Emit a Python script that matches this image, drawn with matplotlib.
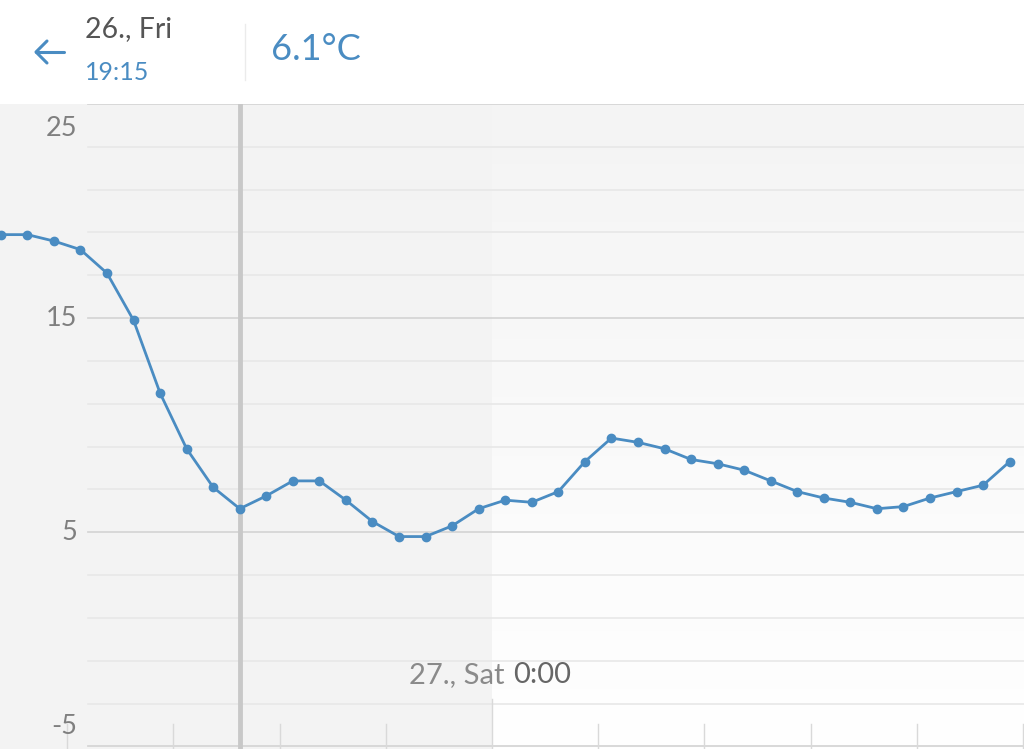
#!/usr/bin/env python3
import numpy as np
import matplotlib
matplotlib.use("Agg")
import matplotlib.pyplot as plt
import matplotlib.transforms as mtransforms
from matplotlib.colors import LinearSegmentedColormap

plt.rcParams["font.family"] = ["Lato", "DejaVu Sans"]

# ------------------------
# Data (half-hourly temperature, 26. Fri -> 27. Sat)
# ------------------------
times = [
    "14:45", "15:15", "15:45", "16:15", "16:45", "17:15", "17:45", "18:15",
    "18:45", "19:15", "19:45", "20:15", "20:45", "21:15", "21:45", "22:15",
    "22:45", "23:15", "23:45", "0:15", "0:45", "1:15", "1:45", "2:15",
    "2:45", "3:15", "3:45", "4:15", "4:45", "5:15", "5:45", "6:15",
    "6:45", "7:15", "7:45", "8:15", "8:45", "9:15", "9:45",
]
temps = [
    18.9, 18.9, 18.6, 18.2, 17.1, 14.9, 11.5, 8.9,
    7.1, 6.1, 6.7, 7.4, 7.4, 6.5, 5.5, 4.8,
    4.8, 5.3, 6.1, 6.5, 6.4, 6.9, 8.3, 9.4,
    9.2, 8.9, 8.4, 8.2, 7.9, 7.4, 6.9, 6.6,
    6.4, 6.1, 6.2, 6.6, 6.9, 7.2, 8.3,
]
y_labels = [25, 15, 5, -5]
selected_time = "19:15"
selected_text = "6.1°C"
day_label = "26., Fri"
next_day_label = "27., Sat"
midnight_label = "0:00"

BLUE = "#4a8cc2"


def to_hours(t):
    # hours relative to midnight of 27.; afternoon/evening values belong to the 26.
    h, m = t.split(":")
    h = int(h) + int(m) / 60.0
    return h - 24 if h >= 12 else h


x = np.array([to_hours(t) for t in times])
y = np.array(temps)

XMIN, XMAX = -9.265, 10.02
YMIN, YMAX = -5.12, 25.0

W, H = 1024, 749
HEADER = 104

fig = plt.figure(figsize=(W / 100, H / 100), dpi=100)
fig.patch.set_facecolor("white")

# ------------------------
# Main chart
# ------------------------
ax = fig.add_axes([0, 0, 1, (H - HEADER) / H])
ax.set_xlim(XMIN, XMAX)
ax.set_ylim(YMIN, YMAX)
ax.axis("off")

# backgrounds: past = flat grey, future = fading gradient
ax.axvspan(XMIN, 0, color="#f3f3f3", zorder=0, lw=0)
grad = np.linspace(0, 1, 256).reshape(-1, 1)
cmap = LinearSegmentedColormap.from_list("bg", ["#f4f4f4", "#ffffff"])
ax.imshow(grad, extent=(0, XMAX, YMIN, YMAX), aspect="auto", cmap=cmap,
          origin="upper", zorder=0)

# grid lines
gx0 = 88 / W
for v in range(-5, 26, 2):
    major = (v + 5) % 10 == 0
    ax.axhline(v, xmin=gx0, xmax=1, color="#d6d6d6" if major else "#e6e6e6",
               lw=1.3 if major else 1.1, zorder=1)

# bottom ticks every 2 hours
trans = mtransforms.blended_transform_factory(ax.transData, ax.transAxes)
for h in range(-8, 11, 2):
    top = 50 / (H - HEADER) if h == 0 else 25 / (H - HEADER)
    ax.plot([h, h], [0, top], transform=trans, color="#d9d9d9", lw=1.0,
            zorder=1, clip_on=False)

# cursor at selected time
ax.axvline(to_hours(selected_time), color="#c8c8c8", lw=3.5, zorder=2)

# temperature line
ax.plot(x, y, color=BLUE, lw=2.0, marker="o", ms=6, zorder=3)

# y labels
ylab_trans = mtransforms.blended_transform_factory(ax.transAxes, ax.transData)
offsets = {25: -24, 15: 0, 5: 0, -5: 20}
for v in y_labels:
    ax.annotate(str(v), xy=(77 / W, v), xycoords=ylab_trans,
                xytext=(0, offsets[v]), textcoords="offset pixels",
                ha="right", va="center", fontsize=19.5, color="#7f7f7f")

# midnight label
ax.annotate(next_day_label, xy=(0, -1.67), xytext=(13, 0),
            textcoords="offset pixels", ha="right", va="center",
            fontsize=21, color="#8a8a8a")
ax.annotate(midnight_label, xy=(0, -1.67), xytext=(21, 0),
            textcoords="offset pixels", ha="left", va="center",
            fontsize=21, color="#666666")

# ------------------------
# Header
# ------------------------
hx = fig.add_axes([0, (H - HEADER) / H, 1, HEADER / H])
hx.set_xlim(0, W)
hx.set_ylim(HEADER, 0)
hx.axis("off")

# back arrow
hx.plot([36, 64], [52, 52], color=BLUE, lw=2.2, solid_capstyle="round")
hx.plot([47, 36, 47], [41, 52, 63], color=BLUE, lw=2.2,
        solid_capstyle="round", solid_joinstyle="round")

hx.text(85, 29, day_label, fontsize=20.5, color="#555555", va="center",
        ha="left")
hx.text(85, 73, selected_time, fontsize=18, color=BLUE, va="center",
        ha="left")
hx.plot([245, 245], [24, 80], color="#ebebeb", lw=1.0)
hx.text(271, 50, selected_text, fontsize=26, color=BLUE, va="center",
        ha="left")

fig.savefig("out.png", dpi=100)
